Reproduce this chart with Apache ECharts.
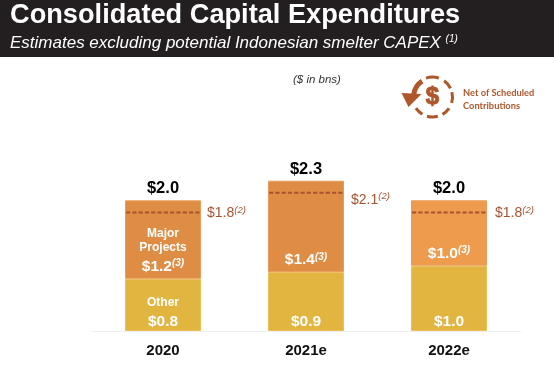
<!DOCTYPE html>
<html>
<head>
<meta charset="utf-8">
<style>
  html, body { margin: 0; padding: 0; background: #fff; }
  #chart { width: 554px; height: 370px; }
</style>
<script src="https://cdn.jsdelivr.net/npm/echarts@6/dist/echarts.min.js"></script>
</head>
<body>
<div id="chart"></div>
<script>
const categories = ['2020', '2021e', '2022e']
const otherValues = [0.8, 0.9, 1.0]
const majorValues = [1.2, 1.4, 1.0]
const totalValues = [2.0, 2.3, 2.0]
const netValues = [1.8, 2.1, 1.8]
const noteMajor = '(3)'
const noteNet = '(2)'

const fontFamily = '"Liberation Sans", Arial, sans-serif'
const netColor = '#A9532F'
const iconColor = '#B0562B'
const barWidth = 76

const money = v => '$' + v.toFixed(1)

// ring segments of the legend icon, angles in radians
const ringArcs = [[-1.9, -1.25], [-0.95, -0.45], [-0.25, 0.3], [0.6, 1.05], [1.3, 1.85], [2.1, 2.55]]

const chart = echarts.init(document.getElementById('chart'))

chart.setOption({
  animation: false,
  backgroundColor: '#fff',
  textStyle: { fontFamily: fontFamily },
  grid: { left: 91.5, right: 33.5, top: 135, bottom: 39 },
  xAxis: {
    type: 'category',
    data: categories,
    axisTick: { show: false },
    axisLine: { lineStyle: { color: '#F0EEEE', width: 1 } },
    axisLabel: { color: '#111', fontSize: 15, fontWeight: 'bold', margin: 12, fontFamily: fontFamily }
  },
  yAxis: { type: 'value', min: 0, max: 3, show: false },
  series: [
    {
      name: 'Other',
      type: 'bar',
      stack: 'capex',
      barWidth: barWidth,
      data: otherValues,
      itemStyle: { color: '#E2B440', borderColor: '#EAC058', borderWidth: 1 },
      label: {
        show: true,
        position: 'insideBottom',
        distance: 0,
        color: '#fff',
        formatter: p => (p.dataIndex === 0 ? '{small|Other}\n' : '') + '{val|' + money(p.value) + '}',
        rich: {
          small: { color: '#fff', fontSize: 12, fontWeight: 'bold', lineHeight: 20, fontFamily: fontFamily },
          val: { color: '#fff', fontSize: 15.5, fontWeight: 'bold', lineHeight: 18, fontFamily: fontFamily }
        }
      }
    },
    {
      name: 'Major Projects',
      type: 'bar',
      stack: 'capex',
      barWidth: barWidth,
      data: majorValues,
      itemStyle: {
        color: p => (p.dataIndex === 2 ? '#EF9B4E' : '#DF8C45'),
        borderColor: '#E89C58',
        borderWidth: 1
      },
      label: {
        show: true,
        position: 'insideBottom',
        distance: 0,
        color: '#fff',
        formatter: p => (p.dataIndex === 0 ? '{small|Major}\n{small|Projects}\n' : '') +
          '{val|' + money(p.value) + '}{sup|' + noteMajor + '}',
        rich: {
          small: { color: '#fff', fontSize: 12, fontWeight: 'bold', lineHeight: 14, fontFamily: fontFamily },
          val: { color: '#fff', fontSize: 15.5, fontWeight: 'bold', lineHeight: 24, fontFamily: fontFamily },
          sup: { color: '#fff', fontSize: 10, fontWeight: 'bold', fontStyle: 'italic', padding: [0, 0, 6, 0], fontFamily: fontFamily }
        }
      }
    },
    {
      name: 'Total',
      type: 'scatter',
      symbolSize: 0,
      data: totalValues,
      itemStyle: { opacity: 1 },
      label: {
        show: true,
        position: 'top',
        distance: 3,
        color: '#000',
        fontSize: 16.5,
        fontWeight: 'bold',
        fontFamily: fontFamily,
        formatter: p => money(p.value)
      }
    },
    {
      name: 'Net of Scheduled Contributions',
      type: 'custom',
      data: netValues,
      z: 5,
      encode: { x: 0, y: 1 },
      renderItem: (params, api) => {
        const i = params.dataIndex
        const pt = api.coord([categories[i], netValues[i]])
        const half = barWidth / 2 - 1
        return {
          type: 'group',
          children: [
            {
              type: 'line',
              shape: { x1: pt[0] - half, y1: pt[1] - 1, x2: pt[0] + half, y2: pt[1] - 1 },
              style: { stroke: netColor, lineWidth: 2, lineDash: [4.2, 2.1] }
            },
            {
              type: 'text',
              x: pt[0] + half + [7, 8, 9][i],
              y: pt[1] + [0, 6, 0][i],
              style: {
                text: '{val|' + money(netValues[i]) + '}{sup|' + noteNet + '}',
                verticalAlign: 'middle',
                rich: {
                  val: { fill: netColor, fontSize: 14, fontFamily: fontFamily },
                  sup: { fill: netColor, fontSize: 9.5, fontStyle: 'italic', padding: [0, 0, 6, 0], fontFamily: fontFamily }
                }
              }
            }
          ]
        }
      }
    }
  ],
  graphic: [
    { type: 'rect', shape: { x: 0, y: 0, width: 554, height: 57 }, style: { fill: '#231F20' }, z: 10 },
    {
      type: 'text', x: 10, y: 2, z: 11,
      style: { text: 'Consolidated Capital Expenditures', fill: '#fff', font: 'bold 27.2px ' + fontFamily }
    },
    {
      type: 'text', x: 10, y: 34.5, z: 11,
      style: {
        text: '{t|Estimates excluding potential Indonesian smelter CAPEX }{s|(1)}',
        rich: {
          t: { fill: '#fff', fontSize: 17, fontStyle: 'italic', fontFamily: fontFamily },
          s: { fill: '#fff', fontSize: 10, fontStyle: 'italic', padding: [0, 0, 8, 0], fontFamily: fontFamily }
        }
      }
    },
    {
      type: 'text', x: 293, y: 74, z: 11,
      style: { text: '($ in bns)', fill: '#333', font: 'italic 11.5px ' + fontFamily }
    },
    {
      type: 'group', x: 432.5, y: 97, z: 11,
      children: ringArcs.map(a => ({
        type: 'arc',
        shape: { cx: 0, cy: 0, r: 20, startAngle: a[0], endAngle: a[1] },
        style: { stroke: iconColor, lineWidth: 3, fill: null }
      })).concat([
        // arrow shaft and head on the upper left of the ring
        {
          type: 'arc',
          shape: { cx: 0, cy: 0, r: 19, startAngle: -3.0, endAngle: -2.15 },
          style: { stroke: iconColor, lineWidth: 5, fill: null }
        },
        { type: 'polygon', shape: { points: [[-31, -4], [-11, -3], [-24, 10]] }, style: { fill: iconColor } },
        {
          type: 'text', x: 0, y: 0,
          style: {
            text: '$', fill: iconColor, stroke: iconColor, lineWidth: 1,
            font: 'bold 24px ' + fontFamily, align: 'center', verticalAlign: 'middle'
          }
        }
      ])
    },
    {
      type: 'text', x: 463, y: 86.5, z: 11,
      style: { text: 'Net of Scheduled\nContributions', fill: iconColor, font: 'bold 9.3px Lato, ' + fontFamily, lineHeight: 13 }
    }
  ]
})
</script>
</body>
</html>
